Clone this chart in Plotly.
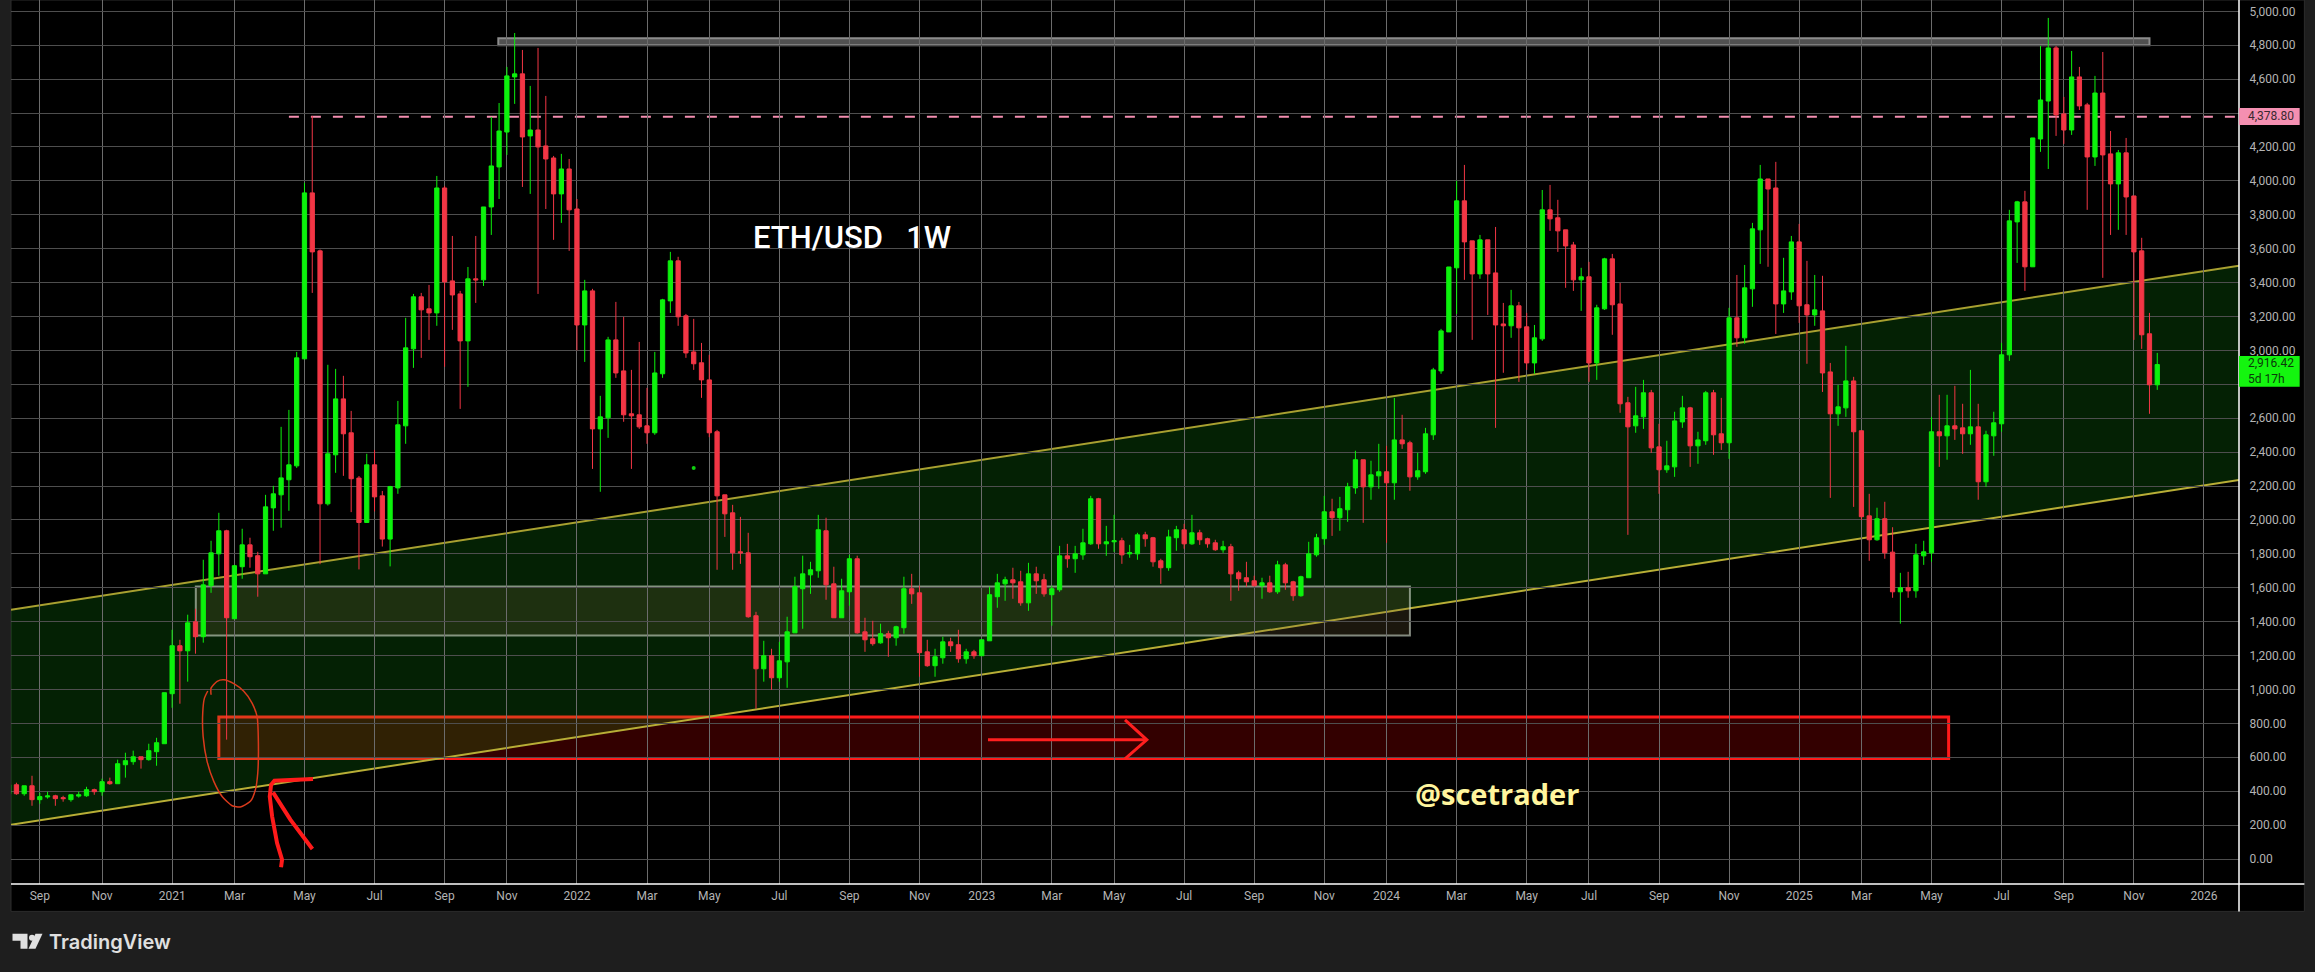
import pandas as pd
import plotly.graph_objects as go

# ---------- weekly ETH/USD candles ----------
first_week = "2020-08-10"
opens = [385,438,385,432,350,366,373,362,350,371,
373,409,397,456,444,556,574,603,586,633,
680,975,1258,1228,1399,1311,1612,1800,1936,1417,
1724,1853,1789,1682,2071,2148,2237,2319,2950,3929,
3587,2095,2384,2714,2514,2247,1985,2325,2142,1887,
2189,2555,3009,3316,3245,3221,3958,3410,3333,3056,
3422,3416,3846,4082,4288,4613,4631,4265,4300,4206,
4135,3923,4070,3834,3150,3351,2537,2602,3062,2879,
2626,2620,2555,2514,2862,3292,3528,3204,2991,2927,
2826,2520,2148,2042,1812,1806,1435,1122,1199,1069,
1163,1334,1594,1676,1700,1936,1623,1423,1576,1771,
1340,1299,1275,1329,1305,1364,1594,1570,1222,1140,
1187,1281,1264,1181,1222,1199,1287,1547,1623,1647,
1635,1511,1682,1647,1559,1588,1788,1771,1794,1859,
2125,1859,1871,1877,1800,1800,1912,1895,1759,1718,
1895,1942,1859,1924,1889,1865,1824,1842,1688,1659,
1641,1612,1629,1576,1735,1635,1553,1659,1794,1889,
2048,2013,2060,2189,2355,2195,2260,2284,2219,2472,
2455,2254,2284,2502,2879,3109,3487,3882,3646,3451,
3652,3457,3156,3145,3263,3139,2926,3068,3829,3782,
3711,3622,3416,3434,2926,3245,3540,3274,2691,2555,
2608,2750,2431,2296,2313,2578,2661,2437,2467,2750,
2508,2455,3192,3074,3363,3711,4011,3958,3274,3345,
3640,3269,3209,3233,2873,2626,2661,2820,2526,2024,
1883,2007,1810,1576,1600,1582,1788,1806,2520,2496,
2555,2543,2508,2549,2225,2496,2567,2974,3758,3876,
3493,4247,4471,4784,4395,4300,4613,4448,4141,4518,
4159,3982,4165,3911,3587,3098,2797]
highs = [440,450,432,491,389,397,379,373,379,397,
426,415,474,480,586,627,639,603,680,715,
981,1352,1293,1441,1476,1765,1877,2042,1942,1735,
1948,1895,1812,2148,2201,2549,2649,2991,3988,4383,
3595,2915,2891,2850,2643,2259,2390,2413,2171,2201,
2702,3192,3333,3339,3386,4029,3970,3675,3351,3492,
3675,3846,4377,4459,4672,4872,4772,4560,4784,4501,
4147,4159,4129,3893,3416,3363,2732,3080,3286,3198,
2885,3050,2779,2991,3304,3581,3552,3215,3186,3044,
2974,2531,2148,2089,2018,1924,1458,1287,1240,1281,
1429,1665,1789,1753,2030,2013,1724,1653,1794,1789,
1423,1405,1388,1346,1376,1665,1682,1612,1293,1240,
1311,1305,1352,1240,1234,1293,1606,1682,1665,1718,
1700,1747,1724,1682,1612,1847,1859,1847,1948,2142,
2130,1965,2030,1895,1853,1924,1930,1900,1771,1942,
1965,1977,2030,1942,1895,1883,1877,1859,1700,1753,
1671,1659,1671,1759,1747,1641,1671,1871,1918,2142,
2125,2136,2219,2408,2355,2349,2449,2437,2720,2620,
2467,2396,2543,2897,3127,3492,4000,4094,3646,3681,
3652,3728,3280,3357,3286,3221,3150,3946,3976,3888,
3711,3640,3487,3522,3269,3546,3569,3398,2726,2785,
2826,2767,2567,2467,2638,2732,2667,2520,2761,2767,
2720,3251,3445,3504,3752,4094,4011,4112,3546,3675,
3746,3528,3445,3440,2926,2797,3027,2844,2526,2154,
2072,2107,1957,1688,1694,1859,1877,2608,2738,2738,
2791,2685,2885,2685,2526,2638,3044,3829,3882,3941,
4253,4796,4961,4796,4495,4766,4672,4460,4619,4760,
4294,4182,4253,3911,3664,3221,2985]
lows = [380,379,373,314,326,356,314,338,338,362,
367,379,373,438,444,480,556,533,580,550,
680,892,916,1046,1211,1276,1570,1671,704,1417,
1653,1718,1547,1682,1936,1954,2054,2307,2950,3339,
1739,2085,2278,2260,2046,1708,1985,2050,1843,1726,
2154,2449,2897,2956,3062,3145,2903,3121,2655,2785,
3280,3380,3681,3893,4153,4454,3964,3923,3333,3834,
3652,3752,3587,3001,2932,2301,2166,2484,2838,2579,
2301,2537,2449,2502,2838,3221,3145,2956,2885,2720,
2488,1706,1900,1706,1741,1423,886,1046,998,1046,
1010,1334,1358,1564,1659,1529,1423,1423,1494,1329,
1222,1258,1270,1193,1258,1329,1505,1075,1134,1075,
1152,1222,1158,1152,1181,1199,1287,1482,1523,1535,
1494,1464,1564,1547,1376,1576,1718,1688,1765,1853,
1830,1788,1812,1741,1777,1765,1842,1724,1623,1700,
1818,1830,1853,1853,1836,1818,1806,1523,1582,1606,
1606,1535,1570,1564,1588,1523,1547,1659,1783,1853,
1906,1936,1989,2154,1983,2119,2184,1865,2119,2419,
2172,2237,2272,2472,2862,3109,3215,3416,3062,3422,
3209,2543,2868,3074,2814,2885,2862,3056,3705,3581,
3369,3351,3233,2814,2826,3239,3092,2632,1912,2514,
2537,2396,2154,2278,2254,2543,2313,2331,2443,2384,
2413,2360,3021,3039,3257,3510,3493,3097,3221,3298,
3162,2921,3145,2755,2130,2555,2608,2077,2000,1759,
1877,1771,1541,1388,1541,1541,1735,1753,2313,2355,
2472,2390,2443,2119,2195,2378,2520,2938,3516,3351,
3493,4171,4070,4265,4218,4271,4418,3829,4088,3428,
3681,3711,3681,3062,3009,2626,2767]
closes = [438,385,432,350,368,372,356,356,379,379,
409,397,456,444,562,580,603,586,639,686,
981,1258,1228,1393,1311,1617,1806,1936,1423,1730,
1853,1783,1682,2077,2154,2248,2325,2956,3929,3581,
2095,2390,2714,2508,2243,1985,2325,2136,1887,2197,
2561,3015,3316,3239,3221,3958,3404,3327,3056,3422,
3416,3846,4088,4294,4619,4631,4259,4300,4200,4129,
3923,4070,3829,3150,3351,2537,2608,3062,2867,2620,
2614,2549,2514,2867,3298,3528,3198,2985,2921,2826,
2514,2142,2036,1806,1806,1429,1122,1199,1069,1169,
1340,1606,1682,1706,1942,1617,1423,1582,1771,1334,
1293,1270,1329,1305,1370,1594,1564,1217,1140,1193,
1281,1258,1181,1222,1199,1293,1559,1629,1647,1629,
1511,1682,1641,1564,1594,1788,1771,1800,1865,2125,
1859,1871,1877,1794,1806,1912,1889,1753,1718,1900,
1942,1859,1924,1883,1859,1824,1842,1682,1653,1635,
1612,1629,1576,1735,1629,1553,1665,1800,1895,2048,
2013,2066,2195,2355,2195,2266,2284,2219,2472,2449,
2254,2290,2508,2885,3115,3492,3882,3640,3451,3652,
3451,3150,3145,3263,3133,2926,3074,3829,3776,3705,
3616,3416,3434,2926,3251,3540,3269,2685,2549,2614,
2750,2425,2296,2319,2584,2661,2437,2472,2750,2502,
2455,3192,3074,3369,3717,4011,3952,3274,3351,3640,
3263,3209,3239,2867,2626,2667,2820,2520,2019,1883,
2007,1806,1576,1600,1582,1794,1812,2520,2496,2555,
2537,2508,2549,2225,2502,2573,2974,3764,3876,3493,
4253,4477,4784,4389,4300,4613,4442,4141,4518,4153,
3982,4165,3905,3581,3092,2797,2916.42]

# ---------- axis labels ----------
tick_dates = ["2020-09-07","2020-11-02","2021-01-04","2021-03-01","2021-05-03","2021-07-05",
 "2021-09-06","2021-11-01","2022-01-03","2022-03-07","2022-05-02","2022-07-04",
 "2022-09-05","2022-11-07","2023-01-02","2023-03-06","2023-05-01","2023-07-03",
 "2023-09-04","2023-11-06","2024-01-01","2024-03-04","2024-05-06","2024-07-01",
 "2024-09-02","2024-11-04","2025-01-06","2025-03-03","2025-05-05","2025-07-07",
 "2025-09-01","2025-11-03","2026-01-05"]
tick_labels = ["Sep","Nov","2021","Mar","May","Jul","Sep","Nov","2022","Mar","May","Jul",
 "Sep","Nov","2023","Mar","May","Jul","Sep","Nov","2024","Mar","May","Jul",
 "Sep","Nov","2025","Mar","May","Jul","Sep","Nov","2026"]
price_ticks = list(range(0, 5001, 200))
price_labels = ["" if p == 2800 else f"{p:,.2f}" for p in price_ticks]  # 2,800 sits behind the live price tag

# ---------- drawings on the chart: positions in weeks after 2020-09-07, and price ----------
view_weeks = [-3.698, 282.5]
channel_upper = [1470, 3500]
channel_lower = [202, 2236]
box_white_weeks, box_white_prices = [20.04, 176], [1319, 1608]
box_red_weeks, box_red_prices = [23, 245.2], [593, 837]
box_grey_weeks, box_grey_prices = [58.9, 271], [4800, 4841]
level_weeks, level_price = [32, 282.5], 4378.80
circle_weeks = [22.0,22.0,22.78,23.63,24.92,26.2,27.27,27.91,28.08,28.0,27.7,27.05,25.77,24.7,23.42,22.35,21.49,20.98,20.93,21.15,21.58]
circle_prices = [969,1008,1048,1057,1034,989,920,841,684,507,409,340,307,314,369,458,576,723,861,949,991]
stroke_a_weeks = [30.99,31.12,30.48,29.84,29.54,29.71,30.14,32.62,35.1]
stroke_a_prices = [-49,-4,94,252,369,438,462,468,472]
stroke_b_weeks = [29.96,32.19,35.02]
stroke_b_prices = [393,232,59]
arrow_shaft_weeks, arrow_shaft_prices = [121.8,142.2], [703,703]
arrow_head_weeks, arrow_head_prices = [139.4,142.2,139.4], [821,703,591]
dot_week, dot_price = 84, 2307

GREEN, RED = "#0cf20c", "#f23645"
W, H = 2315, 972
L_PX, R_PX, B_PX = 10.5, 2239.3, 884.3
Y_TOP, Y_BOTTOM = 5066.7, -147.4

origin = pd.Timestamp("2020-09-07")
def week(i):
    return (origin + pd.Timedelta(days=7 * i)).strftime("%Y-%m-%d %H:%M:%S")
def weeks(seq):
    return [week(i) for i in seq]
def px(x):
    return (x - L_PX) / (R_PX - L_PX)
def py(y):
    return 1 - y / B_PX

dates = pd.date_range(first_week, periods=len(opens), freq="7D")

fig = go.Figure()
fig.add_trace(go.Candlestick(
    x=dates, open=opens, high=highs, low=lows, close=closes,
    increasing=dict(line=dict(color=GREEN, width=1), fillcolor=GREEN),
    decreasing=dict(line=dict(color=RED, width=1), fillcolor=RED),
    whiskerwidth=0, hoverinfo="skip", showlegend=False))
fig.add_trace(go.Scatter(x=[week(dot_week)], y=[dot_price], mode="markers",
    marker=dict(color="#0fd00f", size=4), hoverinfo="skip", showlegend=False))
for xs, ys, col, wd in [
    (circle_weeks, circle_prices, "#d93a1c", 1.5),
    (stroke_a_weeks, stroke_a_prices, "#ff1a1a", 4),
    (stroke_b_weeks, stroke_b_prices, "#ff1a1a", 4),
    (arrow_shaft_weeks, arrow_shaft_prices, "#ff1f1f", 3),
    (arrow_head_weeks, arrow_head_prices, "#ff1f1f", 3)]:
    fig.add_trace(go.Scatter(x=weeks(xs), y=ys, mode="lines",
        line=dict(color=col, width=wd, shape="spline", smoothing=0.6) if col == "#d93a1c" else dict(color=col, width=wd),
        hoverinfo="skip", showlegend=False))

a, b = weeks(view_weeks)
a_p, b_p = a.replace(" ", "_"), b.replace(" ", "_")
shapes = [
    # black chart and scale panels
    dict(type="rect", xref="paper", yref="paper", x0=0, x1=px(2304.7), y0=py(911.7), y1=1,
         fillcolor="#000000", line=dict(color="#2c2c2c", width=1), layer="below"),
    # red zone, under the channel
    dict(type="rect", xref="x", yref="y", x0=week(box_red_weeks[0]), x1=week(box_red_weeks[1]),
         y0=box_red_prices[0], y1=box_red_prices[1], fillcolor="rgba(255,0,0,0.2)",
         line=dict(color="#ff1a1a", width=3), layer="below"),
    # channel
    dict(type="path", xref="x", yref="y",
         path=f"M {a_p},{channel_upper[0]} L {b_p},{channel_upper[1]} L {b_p},{channel_lower[1]} L {a_p},{channel_lower[0]} Z",
         fillcolor="rgba(33,255,33,0.13)", line=dict(width=0), layer="below"),
    dict(type="line", xref="x", yref="y", x0=a, x1=b, y0=channel_upper[0], y1=channel_upper[1],
         line=dict(color="#a8a030", width=2), layer="below"),
    dict(type="line", xref="x", yref="y", x0=a, x1=b, y0=channel_lower[0], y1=channel_lower[1],
         line=dict(color="#b8ae36", width=2), layer="below"),
    # pale zone
    dict(type="rect", xref="x", yref="y", x0=week(box_white_weeks[0]), x1=week(box_white_weeks[1]),
         y0=box_white_prices[0], y1=box_white_prices[1], fillcolor="rgba(125,105,60,0.22)",
         line=dict(color="rgba(205,215,200,0.62)", width=2), layer="below"),
    # grey band at the highs
    dict(type="rect", xref="x", yref="y", x0=week(box_grey_weeks[0]), x1=week(box_grey_weeks[1]),
         y0=box_grey_prices[0], y1=box_grey_prices[1], fillcolor="rgba(160,160,160,0.5)",
         line=dict(color="#8c8c8c", width=2), layer="below"),
    # dashed level
    dict(type="line", xref="x", yref="y", x0=week(level_weeks[0]), x1=week(level_weeks[1]),
         y0=level_price, y1=level_price, line=dict(color="#f48fb1", width=2, dash="10px,12px"), layer="below"),
    # scale separators
    dict(type="line", xref="paper", yref="paper", x0=1, x1=1, y0=py(911.7), y1=1,
         line=dict(color="#ffffff", width=1.5), layer="above"),
    dict(type="line", xref="paper", yref="paper", x0=0, x1=px(2304.7), y0=0, y1=0,
         line=dict(color="#ffffff", width=1.5), layer="above"),
    # price labels
    dict(type="rect", xref="paper", yref="paper", x0=1, x1=px(2300), y0=py(125), y1=py(108),
         fillcolor="#f48fb1", line=dict(width=0), layer="above"),
    dict(type="rect", xref="paper", yref="paper", x0=1, x1=px(2300), y0=py(387), y1=py(356),
         fillcolor="#14f50f", line=dict(width=0), layer="above"),
    # TradingView mark
    dict(type="path", xref="paper", yref="paper",
         path=f"M {px(12)},{py(934)} L {px(27)},{py(934)} L {px(27)},{py(949)} L {px(20)},{py(949)} L {px(20)},{py(941)} L {px(12)},{py(941)} Z",
         fillcolor="#e0e0e0", line=dict(width=0), layer="above"),
    dict(type="circle", xref="paper", yref="paper", x0=px(28.5), x1=px(34.5), y0=py(941), y1=py(935),
         fillcolor="#e0e0e0", line=dict(width=0), layer="above"),
    dict(type="path", xref="paper", yref="paper",
         path=f"M {px(35)},{py(934)} L {px(42)},{py(934)} L {px(35)},{py(949)} L {px(28)},{py(949)} Z",
         fillcolor="#e0e0e0", line=dict(width=0), layer="above"),
]

TICK = "#b4b4b4"
def note(text, x, y, size, color, family="Roboto", **kw):
    font = dict(family=family, size=size, color=color)
    font.update(kw)
    return dict(text=text, xref="paper", yref="paper", x=px(x), y=py(y), xanchor="left", yanchor="middle",
                showarrow=False, align="left", font=font, borderpad=0, borderwidth=0)

annotations = [
    note("ETH/USD&nbsp;&nbsp;&nbsp;1W", 753, 238, 31, "#ffffff", family="Roboto", weight=500),
    note("<b>@scetrader</b>", 1415, 794, 29, "#fff59d", family="Open Sans"),
    note("4,378.80", 2248, 116.5, 12, "#3a2a30"),
    note("2,916.42<br>5d 17h", 2248, 371, 12, "#0a3a0a"),
    note("TradingView", 49, 942.5, 20, "#e0e0e0", family="Inter", weight=600),
]

fig.update_layout(
    width=W, height=H, autosize=False,
    margin=dict(l=L_PX, r=W - R_PX, t=0, b=H - B_PX, pad=0),
    paper_bgcolor="#1e1e1e", plot_bgcolor="#000000",
    shapes=shapes, annotations=annotations,
    showlegend=False, hovermode=False, boxgap=0.22,
    xaxis=dict(type="date", range=[a, b], rangeslider=dict(visible=False),
               tickmode="array", tickvals=tick_dates, ticktext=tick_labels,
               showgrid=True, gridcolor="#6c6c6c", gridwidth=1, zeroline=False,
               ticks="outside", ticklen=1, tickcolor="rgba(0,0,0,0)",
               tickfont=dict(family="Roboto", size=12, color=TICK), showline=False),
    yaxis=dict(side="right", range=[Y_BOTTOM, Y_TOP], tickmode="array", tickvals=price_ticks, ticktext=price_labels,
               showgrid=True, gridcolor="#4e4e4e", gridwidth=1, zeroline=False,
               ticks="outside", ticklen=7, tickcolor="rgba(0,0,0,0)",
               tickfont=dict(family="Roboto", size=12, color=TICK), showline=False),
)

fig.write_html("out.html", include_plotlyjs=True, config=dict(displayModeBar=False),
               post_script="document.body.style.margin='0';document.body.style.overflow='hidden';document.body.style.background='#1e1e1e';")
